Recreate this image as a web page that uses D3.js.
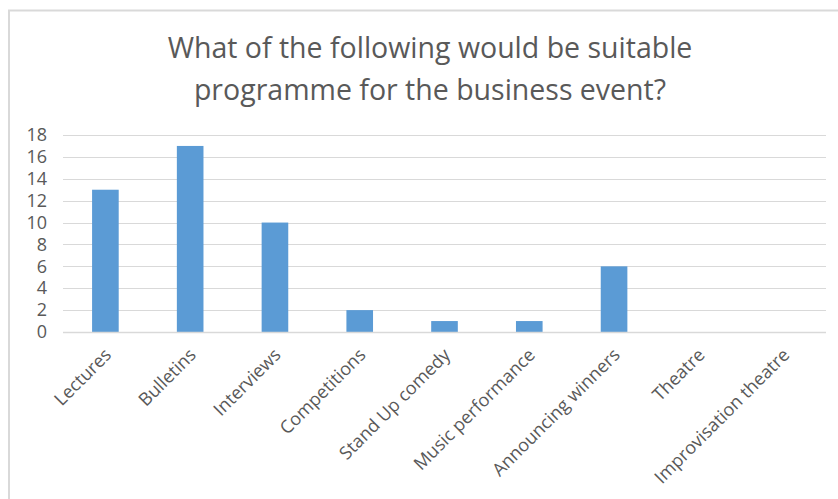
<!DOCTYPE html>
<html>
<head>
<meta charset="utf-8">
<script src="https://cdn.jsdelivr.net/npm/d3@7"></script>
<style>
  html, body { margin: 0; padding: 0; background: #fff; }
  svg { display: block; }
</style>
</head>
<body>
<svg id="chart" width="838" height="499"></svg>
<script>
// Survey answers: suitable programme items for a business event
const categories = [
  "Lectures", "Bulletins", "Interviews", "Competitions", "Stand Up comedy",
  "Music performance", "Announcing winners", "Theatre", "Improvisation theatre"
];
const counts = [13, 17, 10, 2, 1, 1, 6, 0, 0];
const yTicks = [0, 2, 4, 6, 8, 10, 12, 14, 16, 18];
const titleLines = [
  "What of the following would be suitable",
  "programme for the business event?"
];

const svg = d3.select("#chart");
const font = "'Open Sans', 'Noto Sans', sans-serif";
const textColor = "#595959";
const gridColor = "#d9d9d9";

// chart frame
svg.append("rect")
  .attr("x", 9).attr("y", 10.5)
  .attr("width", 840).attr("height", 500)
  .attr("fill", "#fff")
  .attr("stroke", gridColor).attr("stroke-width", 2);

const plot = { left: 63, right: 826, top: 135, bottom: 332 };

const x = d3.scaleBand()
  .domain(categories)
  .range([plot.left, plot.right])
  .paddingInner(0.686)
  .paddingOuter(0.343);

const y = d3.scaleLinear()
  .domain([0, 18])
  .range([plot.bottom, plot.top]);

// horizontal gridlines
svg.append("g")
  .selectAll("line")
  .data(yTicks.filter(d => d > 0))
  .join("line")
  .attr("x1", plot.left).attr("x2", plot.right)
  .attr("y1", d => Math.round(y(d)) + 0.5)
  .attr("y2", d => Math.round(y(d)) + 0.5)
  .attr("stroke", gridColor).attr("stroke-width", 1);

// y axis labels
const yAxis = d3.axisLeft(y).tickValues(yTicks).tickSize(0).tickPadding(0);
const yG = svg.append("g")
  .attr("transform", `translate(${plot.left - 16},0)`)
  .call(yAxis);
yG.select(".domain").remove();
yG.selectAll("text")
  .attr("font-family", font)
  .attr("font-size", 18)
  .attr("fill", textColor);

// bars
svg.append("g")
  .selectAll("rect")
  .data(categories.map((c, i) => ({ c, v: counts[i] })))
  .join("rect")
  .attr("x", d => x(d.c))
  .attr("width", x.bandwidth())
  .attr("y", d => y(d.v))
  .attr("height", d => y(0) - y(d.v))
  .attr("fill", "#5b9bd5");

// category axis
const xAxis = d3.axisBottom(x).tickSize(0).tickPadding(0);
const xG = svg.append("g")
  .attr("transform", `translate(0,${plot.bottom})`)
  .call(xAxis);
xG.select(".domain")
  .attr("d", `M${plot.left},0.5H${plot.right}`)
  .attr("stroke", gridColor).attr("stroke-width", 1.5);
xG.selectAll("text")
  .attr("font-family", font)
  .attr("font-size", 18)
  .attr("fill", textColor)
  .attr("text-anchor", "end")
  .attr("dy", "0")
  .attr("transform", "translate(7,24) rotate(-45)");

// title
svg.append("g")
  .selectAll("text")
  .data(titleLines)
  .join("text")
  .attr("x", 430)
  .attr("y", (d, i) => 58 + i * 42)
  .attr("text-anchor", "middle")
  .attr("font-family", font)
  .attr("font-size", 28.5)
  .attr("fill", textColor)
  .text(d => d);
</script>
</body>
</html>
